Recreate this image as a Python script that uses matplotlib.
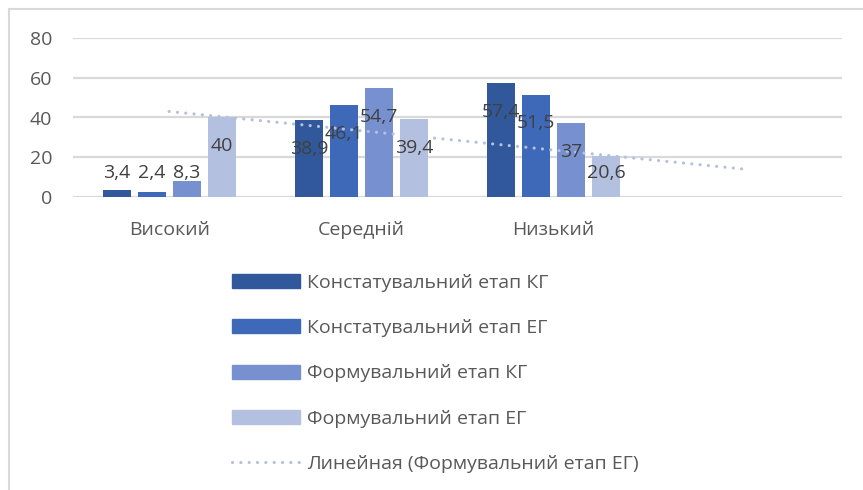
import numpy as np
import matplotlib.pyplot as plt
from matplotlib.lines import Line2D
from matplotlib.patches import Patch

plt.rcParams['font.family'] = ['Open Sans', 'DejaVu Sans']

# data
categories = ['Високий', 'Середній', 'Низький', '']
series_names = ['Констатувальний етап КГ', 'Констатувальний етап ЕГ',
                'Формувальний етап КГ', 'Формувальний етап ЕГ']
konst_kg = [3.4, 38.9, 57.4]
konst_eg = [2.4, 46.1, 51.5]
form_kg = [8.3, 54.7, 37]
form_eg = [40, 39.4, 20.6]
trend_label = 'Линейная (Формувальний етап ЕГ)'

colors = ['#30589A', '#3D69B8', '#7790CF', '#B4C0E0']
text_col = '#404040'
tick_col = '#595959'
grid_col = '#D9D9D9'
fs = 14

fig = plt.figure(figsize=(8.63, 4.90), dpi=100)
ax = fig.add_axes([73 / 863, 293 / 490, 769 / 863, 159 / 490])

step = 35 / 192
width = 28 / 192
x = np.arange(3)
all_series = [konst_kg, konst_eg, form_kg, form_eg]
for i, vals in enumerate(all_series):
    xs = x + (i - 1.5) * step
    ax.bar(xs, vals, width=width, color=colors[i], zorder=2)
    for xx, v in zip(xs, vals):
        # excel style labels, sit a bit below the top of tall bars
        lab = str(v).replace('.', ',')
        ax.text(xx, max(v - 14.5, 12), lab, ha='center', va='center',
                fontsize=fs, color=text_col, zorder=4)

# linear trendline for the last series, forecast one period forward
k, b = np.polyfit(x + 1, form_eg, 1)
tx = np.array([0, 3])
ax.plot(tx, k * (tx + 1) + b, color=colors[3], lw=2.3,
        linestyle=(0, (0.01, 2.6)), dash_capstyle='round', zorder=3)

ax.set_xlim(-0.5, 3.5)
ax.set_ylim(0, 80)
ax.set_yticks([0, 20, 40, 60, 80])
ax.set_xticks(range(4))
ax.set_xticklabels(categories)
ax.tick_params(axis='y', length=0, pad=15, labelsize=fs, labelcolor=tick_col)
ax.tick_params(axis='x', length=0, pad=17, labelsize=fs, labelcolor=tick_col)
ax.grid(axis='y', color=grid_col, lw=1.6, zorder=0)
for s in ax.spines.values():
    s.set_visible(False)

handles = [Patch(color=c) for c in colors]
handles.append(Line2D([0], [0], color=colors[3], lw=2.3,
                      linestyle=(0, (0.01, 2.6)), dash_capstyle='round'))
fig.legend(handles, series_names + [trend_label], loc='upper left',
           bbox_to_anchor=(232 / 863, 1 - 274 / 490), frameon=False,
           fontsize=fs, labelcolor=tick_col, handlelength=3.5,
           handleheight=0.72, handletextpad=0.36, labelspacing=1.4,
           borderpad=0, borderaxespad=0)

# outer chart border (cropped at right and bottom)
fig.add_artist(Line2D([9 / 863, 1], [1 - 9 / 490, 1 - 9 / 490],
                      color=grid_col, lw=1.5))
fig.add_artist(Line2D([9 / 863, 9 / 863], [0, 1 - 9 / 490],
                      color=grid_col, lw=1.5))

fig.savefig('out.png', dpi=100)
